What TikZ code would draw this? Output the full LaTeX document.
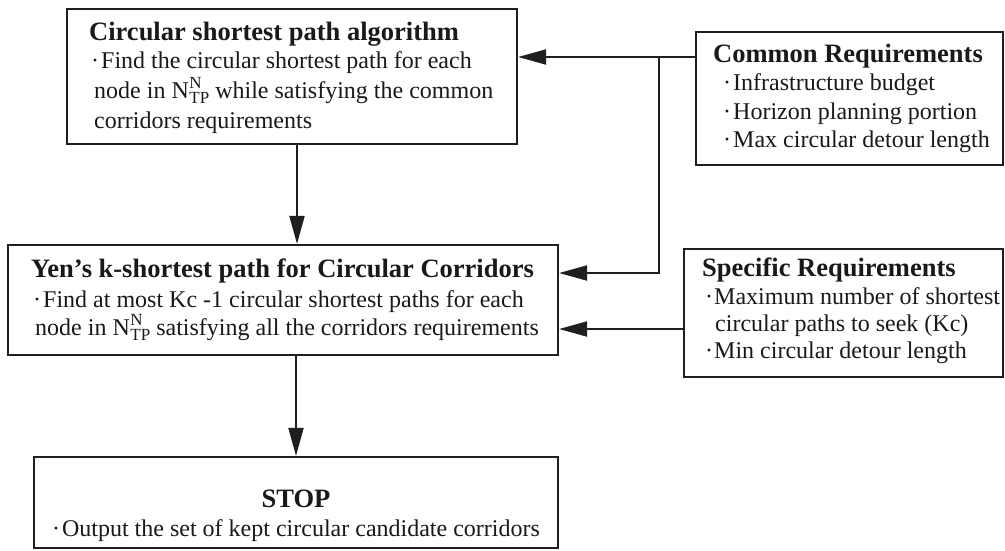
\documentclass[tikz,border=0pt]{standalone}
\usepackage{fontspec}
\setmainfont{Liberation Serif}
\usetikzlibrary{arrows.meta}

% stacked super/subscript after N
\newcommand\NsubTP{N\kern0.6pt\rlap{\raisebox{10pt}{\fontsize{17}{17}\selectfont N}}\raisebox{-5.5pt}{\fontsize{17}{17}\selectfont TP}}

\begin{document}
\begin{tikzpicture}[x=1pt,y=-1pt,
  box/.style={draw=black!88,line width=2.2pt,rectangle,inner sep=0pt},
  ttl/.style={anchor=base west,inner sep=0pt,font=\fontsize{26.5}{26.5}\selectfont\bfseries,text=black!90},
  txt/.style={anchor=base west,inner sep=0pt,font=\fontsize{24}{24}\selectfont,text=black!90},
  ln/.style={draw=black!88,line width=2pt},
  arr/.style={ln,-{Triangle[length=28pt,width=15pt]}}]
\useasboundingbox (0,0) rectangle (1005,550);

% boxes
\node[box,minimum width=450pt,minimum height=135pt] (csp)  at (292,76.5) {};
\node[box,minimum width=307pt,minimum height=133pt] (com)  at (849.5,98.5) {};
\node[box,minimum width=550pt,minimum height=110pt] (yen)  at (283,300) {};
\node[box,minimum width=319pt,minimum height=128pt] (spec) at (843.5,313) {};
\node[box,minimum width=524pt,minimum height=91pt]  (stop) at (296,502.5) {};

% circular shortest path algorithm
\node[ttl] (csp-t) at (89,40) {Circular shortest path algorithm};
\node[txt] (csp-1) at (91,68) {·\kern2pt Find the circular shortest path for each};
\node[txt] (csp-2) at (94,98) {node in \NsubTP{} while satisfying the common};
\node[txt] (csp-3) at (94,128) {corridors requirements};

% common requirements
\node[ttl] (com-t) at (713,62) {Common Requirements};
\node[txt] (com-1) at (723,90) {·\kern2pt Infrastructure budget};
\node[txt] (com-2) at (723,119) {·\kern2pt Horizon planning portion};
\node[txt] (com-3) at (723,147) {·\kern2pt Max circular detour length};

% Yen's k-shortest path
\node[ttl] (yen-t) at (31,277) {Yen’s k-shortest path for Circular Corridors};
\node[txt] (yen-1) at (33,307) {·\kern2pt Find at most Kc -1 circular shortest paths for each};
\node[txt] (yen-2) at (35,335) {node in \NsubTP{} satisfying all the corridors requirements};

% specific requirements
\node[ttl] (spec-t) at (702,276) {Specific Requirements};
\node[txt] (spec-1) at (705,304) {·\kern1pt Maximum number of shortest};
\node[txt] (spec-2) at (715,331) {circular paths to seek (Kc)};
\node[txt] (spec-3) at (705,358) {·\kern1pt Min circular detour length};

% stop
\node[ttl,anchor=base] (stop-t) at (296,507) {STOP};
\node[txt,anchor=base] (stop-1) at (296,536) {·\kern2pt Output the set of kept circular candidate corridors};

% connectors
\coordinate (j1) at (659,57);
\coordinate (j2) at (659,273);
\coordinate (j3) at (620,329);

\draw[arr] ([xshift=5pt]csp.south) -- ([xshift=5pt]csp.south |- yen.north);
\draw[arr] (yen.south -| stop.north) -- (stop.north);
\draw[arr] (com.west |- j1) -- (csp.east |- j1);
\draw[arr] (j1) -- (j2) -- (yen.east |- j2);
\draw[arr] (spec.west |- j3) -- (yen.east |- j3);
\end{tikzpicture}
\end{document}
